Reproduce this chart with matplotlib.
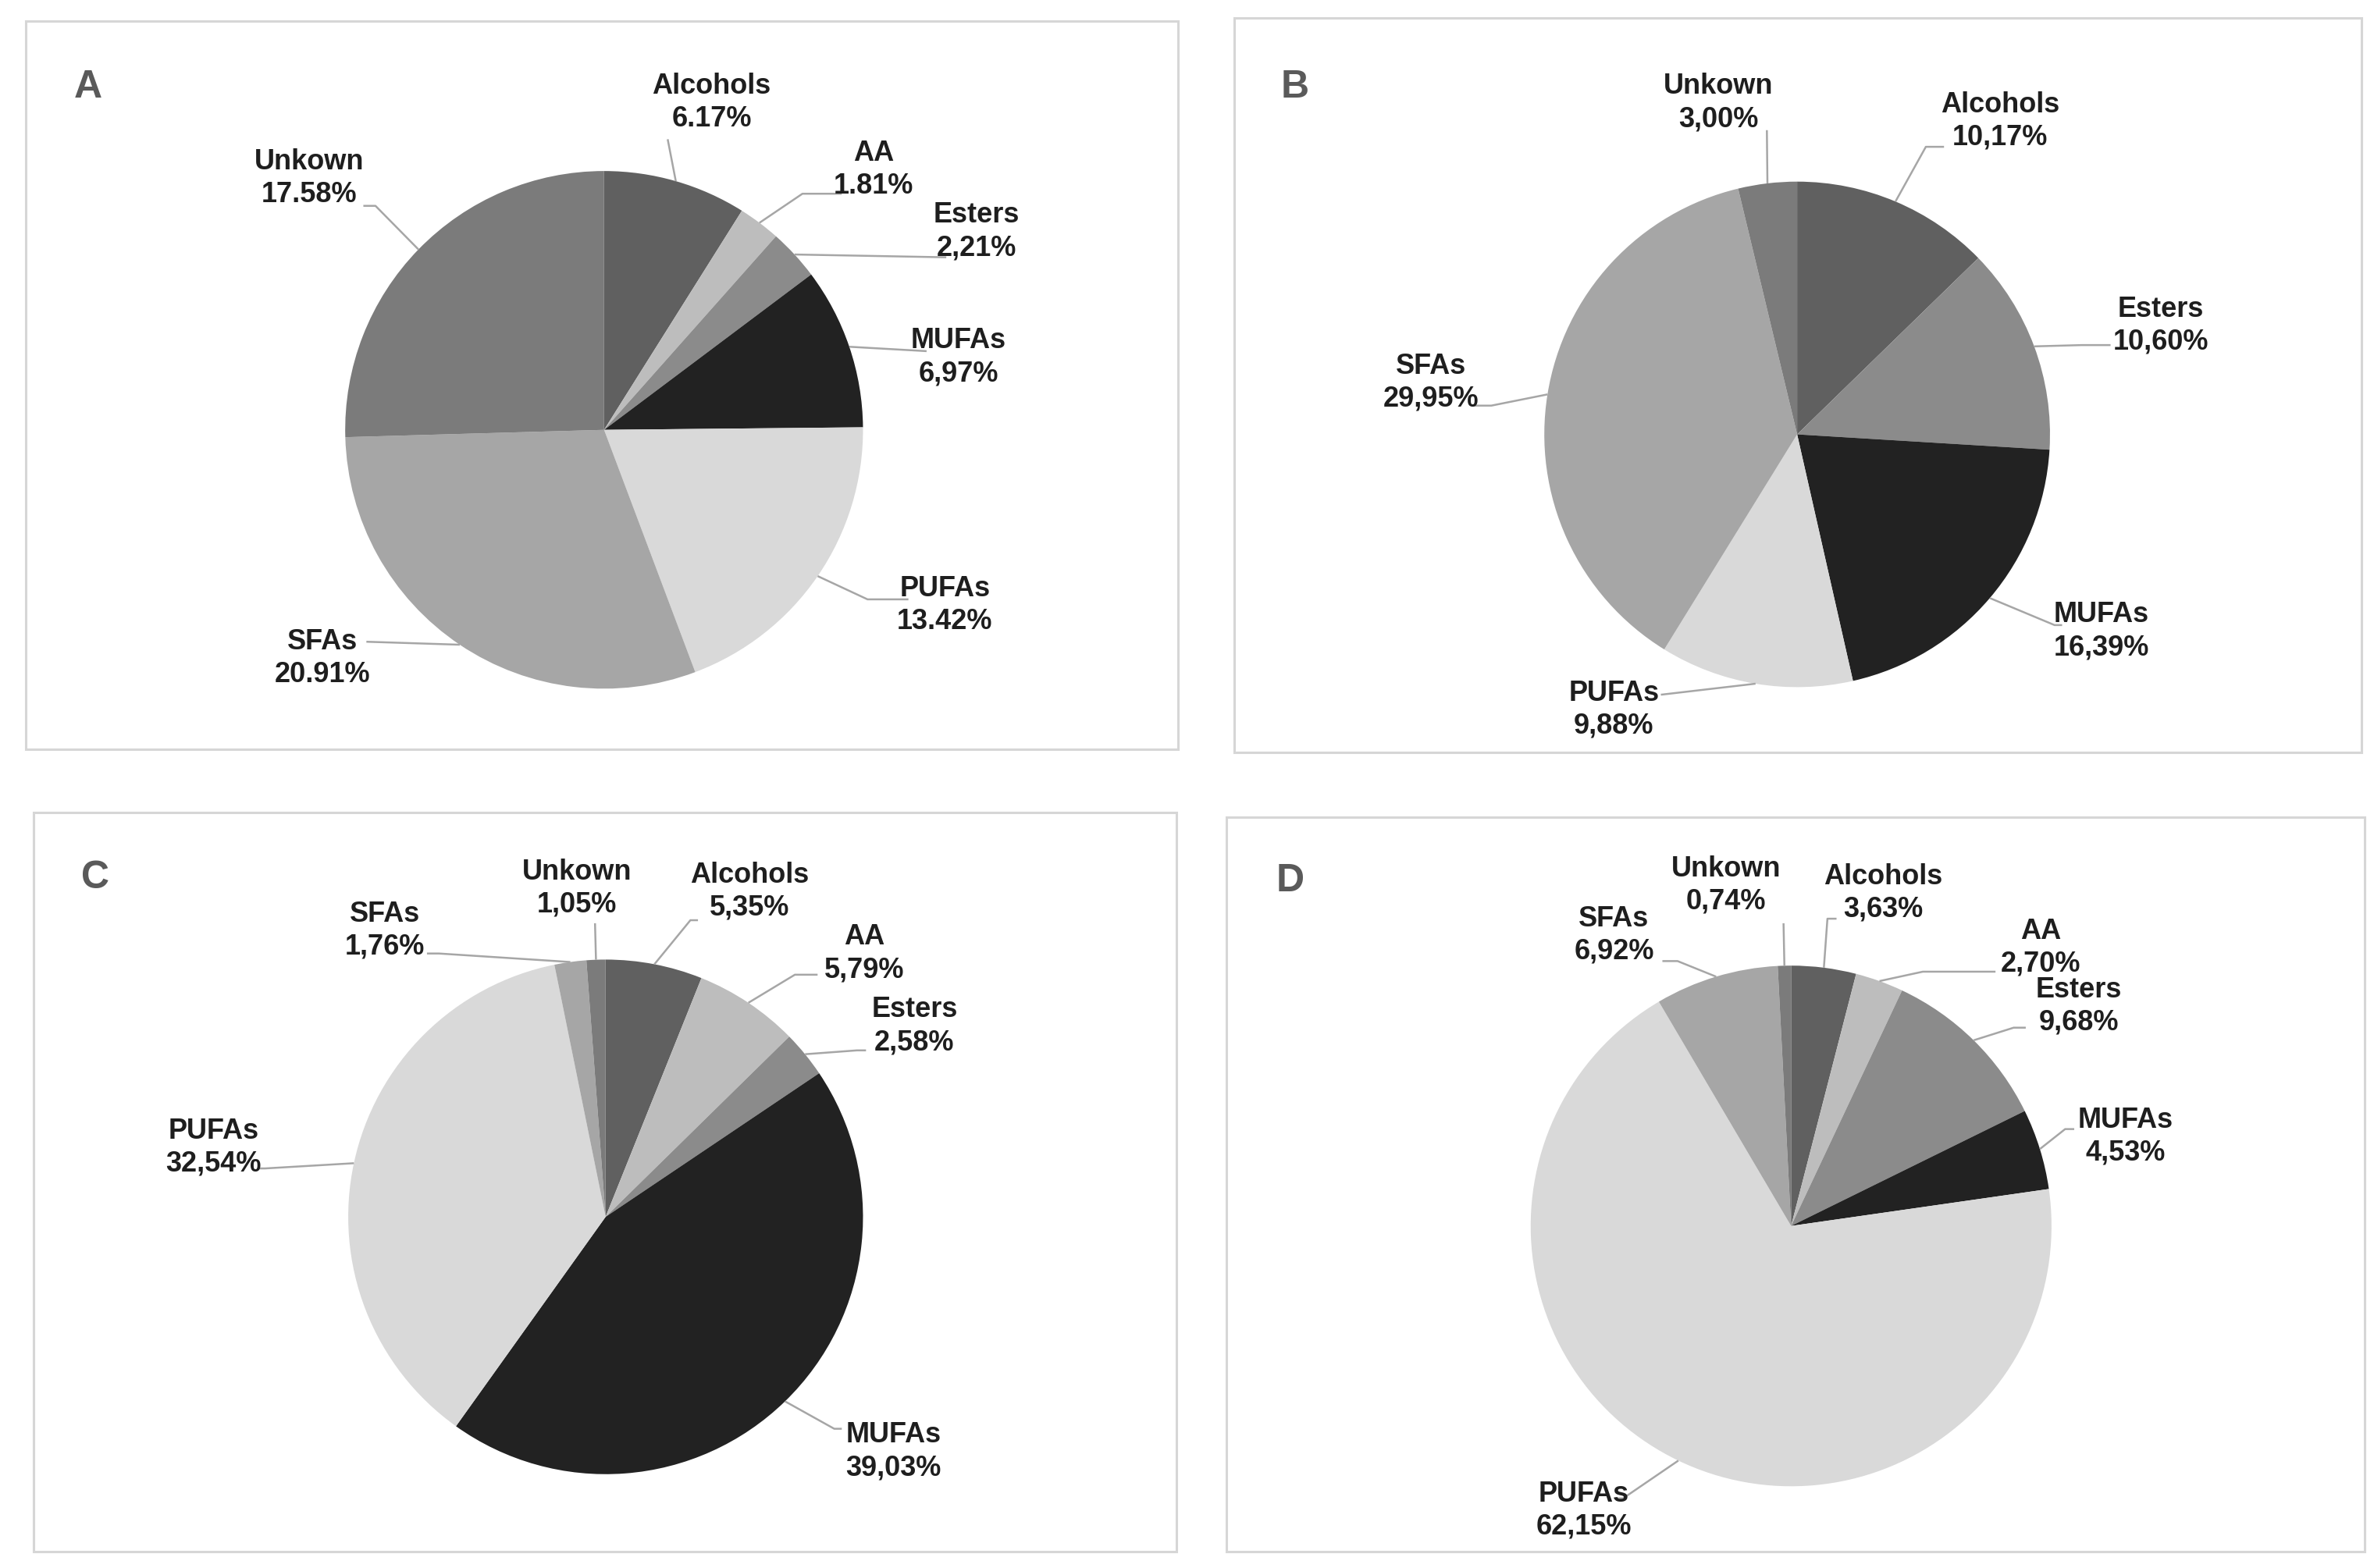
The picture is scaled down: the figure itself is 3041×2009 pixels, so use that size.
import matplotlib
matplotlib.use("Agg")
import matplotlib.pyplot as plt
from matplotlib.patches import Rectangle
import numpy as np

plt.rcParams['font.family'] = ['Liberation Sans Narrow', 'Liberation Sans', 'DejaVu Sans']

# ---------------- data ----------------
categories_A = ["Alcohols", "AA", "Esters", "MUFAs", "PUFAs", "SFAs", "Unkown"]
values_A = [6.17, 1.81, 2.21, 6.97, 13.42, 20.91, 17.58]
labels_A = ["6.17%", "1.81%", "2,21%", "6,97%", "13.42%", "20.91%", "17.58%"]

categories_B = ["Alcohols", "Esters", "MUFAs", "PUFAs", "SFAs", "Unkown"]
values_B = [10.17, 10.60, 16.39, 9.88, 29.95, 3.00]
labels_B = ["10,17%", "10,60%", "16,39%", "9,88%", "29,95%", "3,00%"]

categories_C = ["Alcohols", "AA", "Esters", "MUFAs", "PUFAs", "SFAs", "Unkown"]
values_C = [5.35, 5.79, 2.58, 39.03, 32.54, 1.76, 1.05]
labels_C = ["5,35%", "5,79%", "2,58%", "39,03%", "32,54%", "1,76%", "1,05%"]

categories_D = ["Alcohols", "AA", "Esters", "MUFAs", "PUFAs", "SFAs", "Unkown"]
values_D = [3.63, 2.70, 9.68, 4.53, 62.15, 6.92, 0.74]
labels_D = ["3,63%", "2,70%", "9,68%", "4,53%", "62,15%", "6,92%", "0,74%"]

panel_letters = ["A", "B", "C", "D"]

# ---------------- styles ----------------
colors = {"Alcohols": "#606060", "AA": "#bdbdbd", "Esters": "#8b8b8b",
          "MUFAs": "#222222", "PUFAs": "#d9d9d9", "SFAs": "#a6a6a6",
          "Unkown": "#7b7b7b"}

W, H = 1568, 1036  # layout units (reference scaled)

def Y(y):
    return H - y

# layout: panel boxes (x0, y0, x1, y1), pie centre & radius, label centres, leader elbows
layout = {
    "A": dict(box=(17, 14, 778, 495), c=(399, 284), r=171, letter=(58, 58),
              lab={"Alcohols": (470, 68), "AA": (577, 112), "Esters": (645, 153),
                   "MUFAs": (633, 236), "PUFAs": (624, 400), "SFAs": (213, 435),
                   "Unkown": (204, 118)},
              elb={"Alcohols": [(441, 92)], "AA": [(530, 128), (556, 128)],
                   "Esters": [(625, 170)], "MUFAs": [(612, 232)],
                   "PUFAs": [(573, 396), (600, 396)], "SFAs": [(242, 424)],
                   "Unkown": [(248, 136), (240, 136)]}),
    "B": dict(box=(815, 12, 1560, 497), c=(1187, 287), r=167, letter=(855, 58),
              lab={"Unkown": (1135, 68), "Alcohols": (1321, 80), "Esters": (1427, 215),
                   "SFAs": (945, 253), "MUFAs": (1388, 417), "PUFAs": (1066, 469)},
              elb={"Unkown": [(1167, 86)], "Alcohols": [(1272, 97), (1284, 97)],
                   "Esters": [(1375, 228), (1394, 228)], "SFAs": [(985, 268), (972, 268)],
                   "MUFAs": [(1357, 413), (1362, 413)], "PUFAs": [(1097, 459)]}),
    "C": dict(box=(22, 537, 777, 1025), c=(400, 804), r=170, letter=(63, 580),
              lab={"Unkown": (381, 587), "Alcohols": (495, 589), "AA": (571, 630),
                   "Esters": (604, 678), "SFAs": (254, 615), "PUFAs": (141, 758),
                   "MUFAs": (590, 959)},
              elb={"Unkown": [(393, 610)], "Alcohols": [(456, 608), (461, 608)],
                   "AA": [(525, 644), (540, 644)], "Esters": [(566, 694), (572, 694)],
                   "SFAs": [(290, 630), (282, 630)], "PUFAs": [(175, 772), (170, 772)],
                   "MUFAs": [(551, 944), (556, 944)]}),
    "D": dict(box=(810, 540, 1562, 1025), c=(1183, 810), r=172, letter=(852, 582),
              lab={"Unkown": (1140, 585), "Alcohols": (1244, 590), "AA": (1348, 626),
                   "Esters": (1373, 665), "MUFAs": (1404, 751), "SFAs": (1066, 618),
                   "PUFAs": (1046, 998)},
              elb={"Unkown": [(1178, 610)], "Alcohols": [(1207, 607), (1213, 607)],
                   "AA": [(1270, 642), (1318, 642)], "Esters": [(1330, 679), (1338, 679)],
                   "MUFAs": [(1364, 746), (1370, 746)], "SFAs": [(1108, 635), (1098, 635)],
                   "PUFAs": [(1072, 990), (1066, 990)]}),
}

panels = [
    ("A", categories_A, values_A, labels_A),
    ("B", categories_B, values_B, labels_B),
    ("C", categories_C, values_C, labels_C),
    ("D", categories_D, values_D, labels_D),
]

fig = plt.figure(figsize=(30.41, 20.09), dpi=100)
fig.patch.set_facecolor("white")
ax = fig.add_axes([0, 0, 1, 1])

LABEL_FS = 26
LETTER_FS = 36

for key, cats, vals, labs in panels:
    L = layout[key]
    x0, y0, x1, y1 = L["box"]
    ax.add_patch(Rectangle((x0, Y(y1)), x1 - x0, y1 - y0, facecolor="white",
                           edgecolor="#d6d6d6", linewidth=2.2, zorder=0))
    cx, cy = L["c"]
    wedges, _ = ax.pie(vals, colors=[colors[c] for c in cats], startangle=90,
                       counterclock=False, center=(cx, Y(cy)), radius=L["r"],
                       wedgeprops=dict(linewidth=0), frame=True)
    for w, cat, lab in zip(wedges, cats, labs):
        mid = np.deg2rad((w.theta1 + w.theta2) / 2.0)
        sx = cx + L["r"] * np.cos(mid)
        sy = Y(cy) + L["r"] * np.sin(mid)
        pts = [(sx, sy)] + [(ex, Y(ey)) for ex, ey in L["elb"][cat]]
        ax.plot([p[0] for p in pts], [p[1] for p in pts], color="#a6a6a6",
                linewidth=1.8, solid_capstyle="butt", zorder=1)
        tx, ty = L["lab"][cat]
        ax.text(tx, Y(ty), f"{cat}\n{lab}", ha="center", va="center",
                fontsize=LABEL_FS, fontweight="bold", color="#1e1e1e",
                linespacing=1.25, zorder=3)
    lx, ly = L["letter"]
    ax.text(lx, Y(ly), key, ha="center", va="center", fontsize=LETTER_FS,
            color="#5a5a5a", fontweight="bold",
            family=['Liberation Sans', 'DejaVu Sans'], zorder=3)

ax.set_aspect("auto")
ax.set_xlim(0, W)
ax.set_ylim(0, H)
ax.axis("off")

fig.savefig("out.png", dpi=100, facecolor="white")
